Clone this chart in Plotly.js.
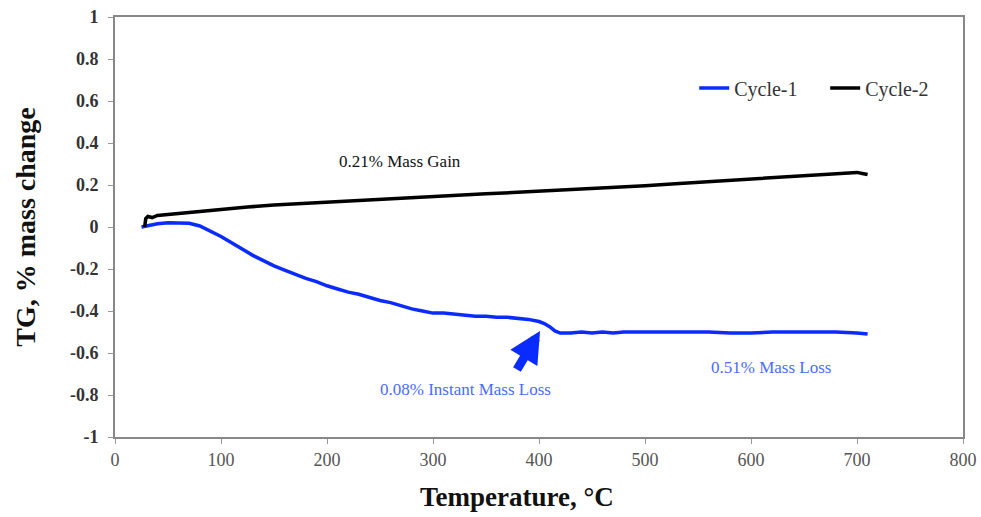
<!DOCTYPE html>
<html>
<head>
<meta charset="utf-8">
<script src="https://cdn.plot.ly/plotly-3.0.1.min.js"></script>
<style>html,body{margin:0;padding:0;background:#fff;}#chart{width:981px;height:517px;}</style>
</head>
<body>
<div id="chart"></div>
<script>
const cycle1Temp = [25,30,40,50,60,70,80,90,100,110,120,130,140,150,160,170,180,190,200,210,220,230,240,250,260,270,280,290,300,310,320,330,340,350,360,370,380,390,400,405,410,415,420,430,440,450,460,470,480,500,520,540,560,580,590,600,620,640,660,680,700,710];
const cycle1TG = [0,0.005,0.015,0.02,0.02,0.018,0.005,-0.02,-0.045,-0.075,-0.105,-0.135,-0.16,-0.185,-0.205,-0.225,-0.245,-0.26,-0.28,-0.295,-0.31,-0.32,-0.335,-0.35,-0.36,-0.375,-0.39,-0.4,-0.41,-0.41,-0.415,-0.42,-0.425,-0.425,-0.43,-0.43,-0.435,-0.44,-0.45,-0.46,-0.475,-0.495,-0.505,-0.505,-0.5,-0.505,-0.5,-0.505,-0.5,-0.5,-0.5,-0.5,-0.5,-0.505,-0.505,-0.505,-0.5,-0.5,-0.5,-0.5,-0.505,-0.51];
const cycle2Temp = [28,29,31,35,40,50,60,80,100,125,150,175,200,225,250,275,300,325,350,375,400,425,450,475,500,525,550,575,600,625,650,675,690,700,705,710];
const cycle2TG = [0,0.04,0.05,0.045,0.055,0.06,0.065,0.075,0.085,0.095,0.105,0.112,0.12,0.127,0.133,0.14,0.147,0.153,0.158,0.164,0.17,0.177,0.183,0.19,0.196,0.205,0.213,0.222,0.23,0.238,0.246,0.252,0.256,0.26,0.255,0.25];
const seriesNames = ['Cycle-1','Cycle-2'];
const xTicks = [0,100,200,300,400,500,600,700,800];
const yTicks = [-1,-0.8,-0.6,-0.4,-0.2,0,0.2,0.4,0.6,0.8,1];

const serif = 'Liberation Serif, Times New Roman, serif';
const traces = [
  {x: cycle1Temp, y: cycle1TG, name: seriesNames[0], mode: 'lines', line: {color: '#0a2bff', width: 3.5}},
  {x: cycle2Temp, y: cycle2TG, name: seriesNames[1], mode: 'lines', line: {color: '#000000', width: 3.5}}
];
const layout = {
  width: 981, height: 517,
  margin: {l: 115, r: 18, t: 17, b: 80},
  paper_bgcolor: '#fff', plot_bgcolor: '#fff',
  showlegend: true,
  legend: {orientation: 'h', x: 0.683, y: 0.831, xanchor: 'left', yanchor: 'middle',
           font: {family: serif, size: 20, color: '#333'}, bgcolor: 'rgba(0,0,0,0)', itemwidth: 30,
           entrywidth: 86, entrywidthmode: 'pixels', tracegroupgap: 0},
  xaxis: {range: [0, 800], tickvals: xTicks, ticktext: xTicks.map(String), showgrid: false, zeroline: false,
          showline: true, mirror: true, linecolor: '#888', linewidth: 2, ticks: 'outside', ticklen: 5, tickcolor: '#999',
          tickfont: {family: serif, size: 18, color: '#555'}},
  yaxis: {range: [-1, 1], tickvals: yTicks, ticktext: yTicks.map(v => String(v)), showgrid: false, zeroline: false,
          showline: true, mirror: true, linecolor: '#888', linewidth: 2, ticks: 'outside', ticklen: 5, tickcolor: '#999',
          ticklabelstandoff: 6,
          tickfont: {family: serif, size: 18, color: '#333', weight: 'bold'},
          title: {text: 'TG, % mass change', font: {family: serif, size: 28, color: '#111', weight: 'bold'}, standoff: 26}},
  annotations: [
    {x: 401, y: -0.495, xref: 'x', yref: 'y', text: '', showarrow: true, arrowhead: 2, arrowsize: 0.7, arrowwidth: 9, arrowcolor: '#0a2bff',
     ax: -24, ay: 40},
    {x: 0.474, y: 0, xref: 'paper', yref: 'paper', text: 'Temperature, °C', showarrow: false, xanchor: 'center', yanchor: 'middle',
     font: {family: serif, size: 27, color: '#111', weight: 'bold'}},
    {x: 269, y: 0.31, xref: 'x', yref: 'y', text: '0.21% Mass Gain', showarrow: false, xanchor: 'center',
     font: {family: serif, size: 17, color: '#111'}},
    {x: 331, y: -0.776, xref: 'x', yref: 'y', text: '0.08% Instant Mass Loss', showarrow: false, xanchor: 'center',
     font: {family: serif, size: 17, color: '#4a6cff'}},
    {x: 619, y: -0.671, xref: 'x', yref: 'y', text: '0.51% Mass Loss', showarrow: false, xanchor: 'center',
     font: {family: serif, size: 17, color: '#4a6cff'}}
  ]
};
// title annotation y in paper coordinates: convert from pixel row 497
layout.annotations[1].y = (517 - 80 - 497) / (517 - 17 - 80);
Plotly.newPlot('chart', traces, layout, {displayModeBar: false, staticPlot: true});
</script>
</body>
</html>
